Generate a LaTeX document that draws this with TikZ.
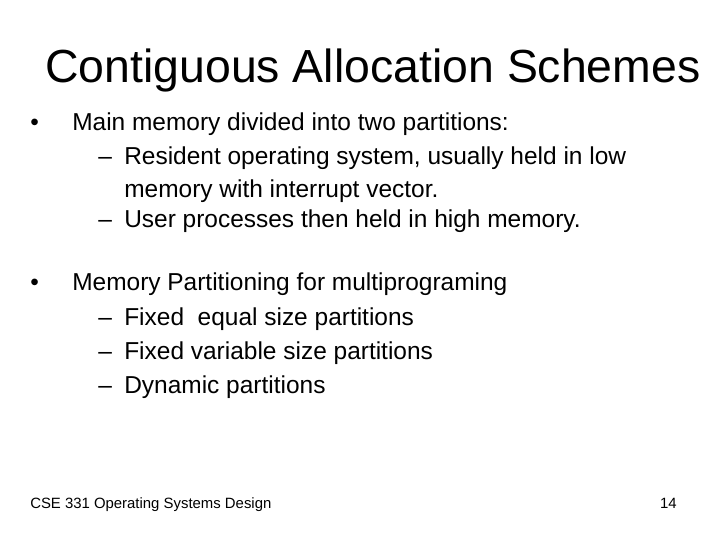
\documentclass[tikz,border=0pt]{standalone}
\usepackage{fontspec}
\setmainfont{Liberation Sans}
\begin{document}
\begin{tikzpicture}[x=0.025cm,y=-0.025cm,
    title node/.style={font=\fontsize{33}{40}\selectfont},
    item node/.style={anchor=base west,inner sep=0pt,font=\fontsize{17.4}{21}\selectfont},
    foot node/.style={anchor=base west,inner sep=0pt,font=\fontsize{10.6}{12}\selectfont}]
    \useasboundingbox[fill=white] (0,0) rectangle (720,540);
    \node[title node] (title) at (373,70) {Contiguous Allocation Schemes};

    \node[item node] (b1) at (30,130) {•};
    \node[item node] (t1) at (72,130) {Main memory divided into two partitions:};
    \node[item node] (d1) at (98,164) {–};
    \node[item node] (t2) at (124,164) {Resident operating system, usually held in low};
    \node[item node] (t3) at (124,197) {memory with interrupt vector.};
    \node[item node] (d2) at (98,227) {–};
    \node[item node] (t4) at (124,227) {User processes then held in high memory.};

    \node[item node] (b2) at (30,290) {•};
    \node[item node] (t5) at (72,290) {Memory Partitioning for multiprograming};
    \node[item node] (d3) at (98,325) {–};
    \node[item node] (t6) at (124,325) {Fixed\ \ equal size partitions};
    \node[item node] (d4) at (98,359) {–};
    \node[item node] (t7) at (124,359) {Fixed variable size partitions};
    \node[item node] (d5) at (98,393) {–};
    \node[item node] (t8) at (124,393) {Dynamic partitions};

    \node[foot node] (foot) at (30,508) {CSE 331 Operating Systems Design};
    \node[foot node,anchor=base east] (page) at (677,508) {14};
\end{tikzpicture}
\end{document}
